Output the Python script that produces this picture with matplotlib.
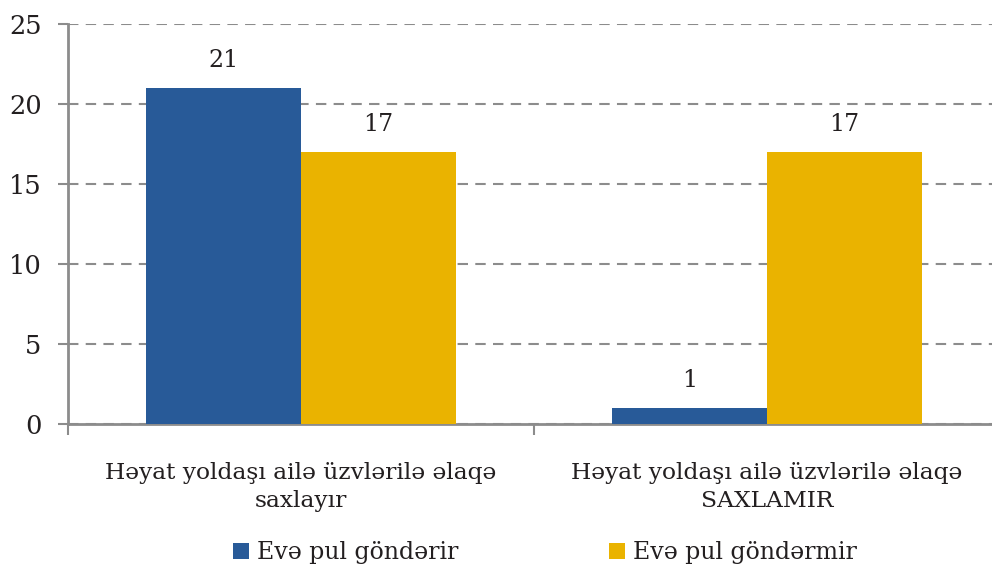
import matplotlib.pyplot as plt
import numpy as np

# Data
categories = ['Həyat yoldaşı ailə üzvlərilə əlaqə\nsaxlayır',
              'Həyat yoldaşı ailə üzvlərilə əlaqə\nSAXLAMIR']
series_names = ['Evə pul göndərir', 'Evə pul göndərmir']
sends_money = [21, 1]
no_money = [17, 17]
yticks = [0, 5, 10, 15, 20, 25]

plt.rcParams['font.family'] = ['DejaVu Serif Condensed', 'DejaVu Serif']

blue = '#285A98'
gold = '#EAB300'
txt = '#231F20'
axc = '#8C8C8C'

fig = plt.figure(figsize=(9.92, 5.65), dpi=100)
ax = fig.add_axes([68 / 992, 141 / 565, 932 / 992, 400 / 565])

x = np.arange(len(categories))
w = 1 / 3
b1 = ax.bar(x - w / 2, sends_money, w, color=blue, label=series_names[0], zorder=3)
b2 = ax.bar(x + w / 2, no_money, w, color=gold, label=series_names[1], zorder=3)

# value labels above bars
for bars in (b1, b2):
    for r in bars:
        ax.text(r.get_x() + r.get_width() / 2, r.get_height() + 1.0, str(int(r.get_height())),
                ha='center', va='bottom', fontsize=17, color=txt)

ax.set_xlim(-0.5, 1.5)
ax.set_ylim(0, 25)
ax.set_yticks(yticks)
ax.yaxis.grid(True, linestyle=(0, (5, 3.5)), color=axc, linewidth=1.5, zorder=0)
ax.set_axisbelow(True)

ax.set_xticks([-0.5, 0.5, 1.5])
ax.set_xticklabels([])
ax.set_xticks(x, minor=True)
ax.set_xticklabels(categories, minor=True, fontsize=16.8, color=txt, linespacing=1.4)
ax.tick_params(axis='x', which='minor', length=0, pad=27)
ax.tick_params(axis='x', which='major', length=8, width=1.5, color=axc, direction='out')
ax.tick_params(axis='y', length=7, width=1.5, color=axc, labelsize=18.5, labelcolor=txt, pad=12)

for s in ['top', 'right']:
    ax.spines[s].set_visible(False)
for s in ['left', 'bottom']:
    ax.spines[s].set_color(axc)
    ax.spines[s].set_linewidth(2)

ax.legend(loc='center', bbox_to_anchor=(545 / 992, 12 / 565), bbox_transform=fig.transFigure,
          ncol=2, frameon=False, fontsize=17, handlelength=0.65, handleheight=0.65,
          handletextpad=0.35, columnspacing=6.4, labelcolor=txt)

fig.savefig('out.png', dpi=100)
